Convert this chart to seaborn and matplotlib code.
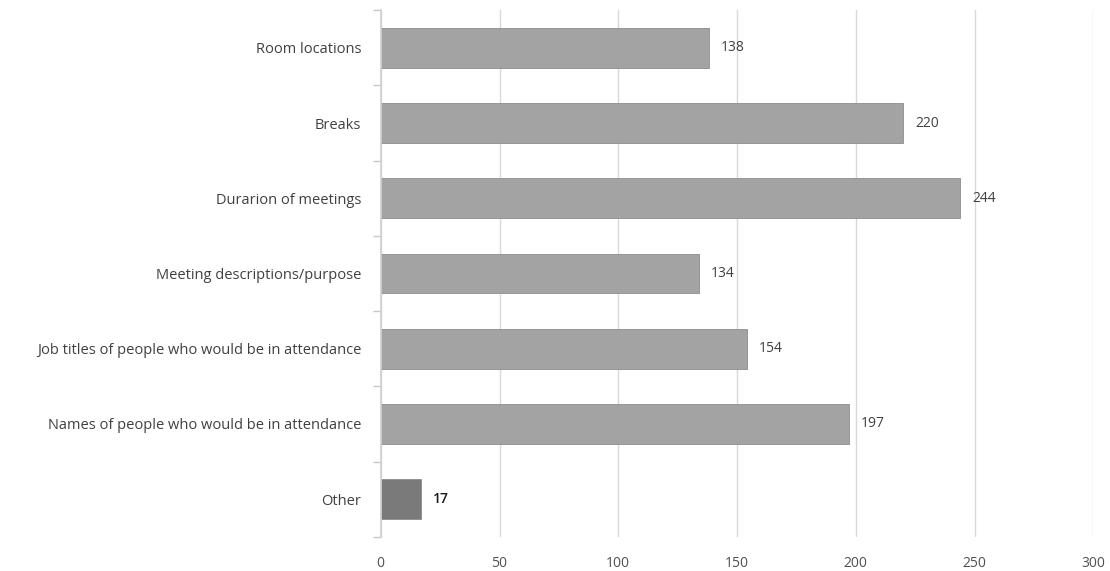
import matplotlib
matplotlib.use("Agg")
import matplotlib.pyplot as plt
import seaborn as sns
import pandas as pd

categories = [
    "Room locations",
    "Breaks",
    "Durarion of meetings",
    "Meeting descriptions/purpose",
    "Job titles of people who would be in attendance",
    "Names of people who would be in attendance",
    "Other",
]
counts = [138, 220, 244, 134, 154, 197, 17]
bar_colors = ["#a3a3a3"] * 6 + ["#7a7a7a"]

df = pd.DataFrame({"category": categories, "count": counts})

sns.set_theme(style="white")
plt.rcParams["font.family"] = ["Open Sans", "DejaVu Sans"]

fig = plt.figure(figsize=(11.1, 5.71), dpi=100)
ax = fig.add_axes([0.343, 0.06, 0.642, 0.922])

sns.barplot(data=df, x="count", y="category", hue="category", palette=bar_colors,
            legend=False, width=0.53, ax=ax, edgecolor="#8c8c8c", linewidth=0.6)

ax.set_xlim(0, 300)
ax.set_xticks(range(0, 301, 50))
ax.xaxis.grid(True, color="#d9d9d9", linewidth=1)
ax.set_axisbelow(True)
ax.set_xlabel("")
ax.set_ylabel("")

# value labels next to each bar
for i, v in enumerate(counts):
    last = i == len(counts) - 1
    ax.text(v + 5, i, str(v), va="center", ha="left", fontsize=10,
            color="#1a1a1a" if last else "#404040",
            fontweight="semibold" if last else "normal")

for s in ["top", "right", "bottom"]:
    ax.spines[s].set_visible(False)
ax.spines["left"].set_color("#d0d0d0")

# tick marks between categories on the y axis
ax.set_yticks([i - 0.5 for i in range(len(categories) + 1)], minor=True)
ax.tick_params(axis="y", which="minor", length=6, color="#c8c8c8", width=1, left=True)
ax.tick_params(axis="y", which="major", length=0, labelsize=10.5, labelcolor="#404040", pad=14)
ax.tick_params(axis="x", length=0, labelsize=10, labelcolor="#505050", pad=14)
ax.set_ylim(len(categories) - 0.5, -0.5)

fig.savefig("out.png", dpi=100)
